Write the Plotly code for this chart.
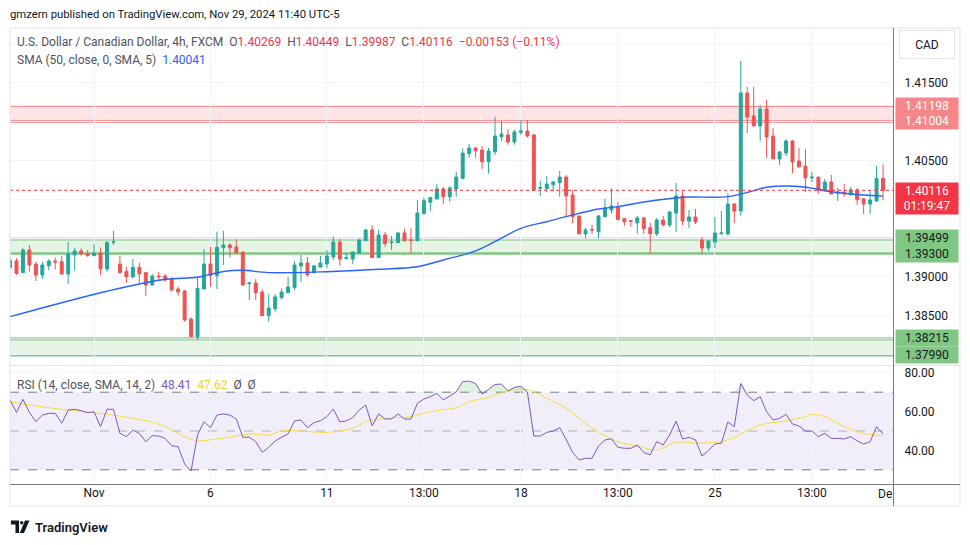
import plotly.graph_objects as go

# ---------------- data ----------------
opens = [1.39118,1.39205,1.39054,1.39346,1.39166,1.39024,1.39144,1.39205,1.39196,1.39037,
         1.39282,1.39334,1.39304,1.39273,1.39308,1.39102,1.39446,1.39166,1.39067,1.38999,
         1.39123,1.39054,1.38895,1.39011,1.39011,1.38973,1.38844,1.38818,1.38457,1.38229,
         1.38844,1.39166,1.39015,1.39376,1.39411,1.39385,1.39321,1.38912,1.38921,1.38805,
         1.38500,1.38590,1.38732,1.38796,1.38861,1.39140,1.39179,1.39054,1.39127,1.39166,
         1.39256,1.39450,1.39235,1.39230,1.39308,1.39466,1.39604,1.39248,1.39540,1.39441,
         1.39441,1.39566,1.39479,1.39466,1.39814,1.39961,1.40004,1.40133,1.40034,1.40133,
         1.40271,1.40588,1.40661,1.40636,1.40485,1.40614,1.40807,1.40829,1.40739,1.40864,
         1.40881,1.40829,1.40142,1.40137,1.40188,1.40214,1.40287,1.40055,1.39785,1.39553,
         1.39613,1.39582,1.39776,1.39862,1.39901,1.39750,1.39724,1.39698,1.39759,1.39634,
         1.39553,1.39733,1.39669,1.39823,1.40043,1.39720,1.39772,1.39475,1.39372,1.39450,
         1.39557,1.39553,1.39939,1.39849,1.41370,1.41074,1.40945,1.41164,1.40816,1.40520,
         1.40597,1.40751,1.40494,1.40429,1.40278,1.40287,1.40116,1.40223,1.40077,1.40094,
         1.40068,1.40120,1.40004,1.39939,1.39978,1.40269]
highs = [1.39247,1.39240,1.39376,1.39411,1.39196,1.39196,1.39227,1.39250,1.39269,1.39450,
         1.39376,1.39368,1.39346,1.39424,1.39381,1.39463,1.39591,1.39269,1.39131,1.39230,
         1.39183,1.39067,1.39037,1.39067,1.39037,1.38995,1.38874,1.38831,1.38479,1.38995,
         1.39359,1.39389,1.39582,1.39591,1.39433,1.39484,1.39321,1.38938,1.38973,1.38840,
         1.38779,1.38779,1.38853,1.38999,1.39205,1.39282,1.39256,1.39153,1.39269,1.39346,
         1.39518,1.39488,1.39308,1.39321,1.39492,1.39621,1.39669,1.39604,1.39578,1.39527,
         1.39578,1.39621,1.39630,1.39991,1.40021,1.40026,1.40197,1.40162,1.40171,1.40352,
         1.40657,1.40713,1.40670,1.40687,1.40661,1.41065,1.41009,1.40906,1.40893,1.41022,
         1.41022,1.40842,1.40240,1.40300,1.40236,1.40365,1.40313,1.40120,1.39785,1.39634,
         1.39673,1.39798,1.40004,1.40142,1.39965,1.39763,1.39733,1.39785,1.39772,1.39698,
         1.39759,1.39785,1.39849,1.40210,1.40120,1.39862,1.39875,1.39514,1.39475,1.39772,
         1.39849,1.40077,1.39952,1.41783,1.41448,1.41448,1.41216,1.41280,1.40919,1.40623,
         1.40777,1.40764,1.40661,1.40648,1.40352,1.40287,1.40262,1.40313,1.40146,1.40197,
         1.40159,1.40146,1.40017,1.40120,1.40429,1.40449]
lows = [1.39105,1.39024,1.39050,1.39067,1.38947,1.38973,1.39089,1.39102,1.39033,1.38908,
        1.39080,1.39273,1.39260,1.39270,1.39024,1.39067,1.39411,1.39050,1.38925,1.38982,
        1.38925,1.38753,1.38895,1.38951,1.38938,1.38809,1.38757,1.38422,1.38229,1.38186,
        1.38844,1.38873,1.38844,1.39153,1.39248,1.39304,1.38886,1.38702,1.38702,1.38500,
        1.38422,1.38551,1.38711,1.38796,1.38831,1.38938,1.39002,1.39046,1.39115,1.39115,
        1.39217,1.39144,1.39230,1.39166,1.39308,1.39466,1.39248,1.39248,1.39389,1.39346,
        1.39441,1.39454,1.39304,1.39466,1.39814,1.39849,1.40004,1.39939,1.39969,1.40034,
        1.40262,1.40536,1.40536,1.40391,1.40330,1.40571,1.40755,1.40704,1.40704,1.40829,
        1.40794,1.40120,1.40043,1.40094,1.40098,1.40034,1.39776,1.39691,1.39553,1.39497,
        1.39553,1.39497,1.39768,1.39814,1.39737,1.39656,1.39647,1.39557,1.39553,1.39304,
        1.39527,1.39647,1.39643,1.39582,1.39669,1.39630,1.39682,1.39295,1.39334,1.39372,
        1.39536,1.39540,1.39694,1.39789,1.40855,1.40945,1.40751,1.40532,1.40520,1.40442,
        1.40558,1.40339,1.40416,1.40094,1.40223,1.40068,1.40098,1.40068,1.39978,1.40034,
        1.40043,1.39930,1.39810,1.39810,1.39965,1.39987]
closes = [1.39209,1.39046,1.39346,1.39153,1.39024,1.39153,1.39205,1.39192,1.39037,1.39295,
          1.39334,1.39295,1.39273,1.39308,1.39102,1.39441,1.39454,1.39054,1.39002,1.39123,
          1.39037,1.38895,1.39011,1.39002,1.38960,1.38831,1.38805,1.38444,1.38229,1.38853,
          1.39166,1.39015,1.39381,1.39411,1.39376,1.39312,1.38895,1.38921,1.38796,1.38500,
          1.38599,1.38741,1.38805,1.38870,1.39153,1.39179,1.39028,1.39140,1.39179,1.39269,
          1.39450,1.39230,1.39248,1.39321,1.39475,1.39604,1.39248,1.39540,1.39428,1.39450,
          1.39566,1.39466,1.39471,1.39823,1.39982,1.40021,1.40133,1.40034,1.40146,1.40287,
          1.40597,1.40661,1.40626,1.40485,1.40623,1.40816,1.40842,1.40739,1.40868,1.40881,
          1.40816,1.40120,1.40150,1.40197,1.40223,1.40287,1.40043,1.39776,1.39553,1.39604,
          1.39604,1.39785,1.39888,1.39913,1.39737,1.39711,1.39716,1.39759,1.39621,1.39557,
          1.39733,1.39673,1.39836,1.40043,1.39720,1.39772,1.39707,1.39372,1.39462,1.39566,
          1.39566,1.39939,1.39849,1.41370,1.41061,1.40945,1.41164,1.40803,1.40520,1.40610,
          1.40751,1.40481,1.40416,1.40275,1.40287,1.40120,1.40223,1.40068,1.40094,1.40068,
          1.40120,1.39995,1.39939,1.39991,1.40269,1.40116]

# SMA(50) read at sample candles
sma_idx = [0,15,24,29,33,36,40,49,57,63,67,72,76,79,83,86,91,94,98,104,111,115,117,120,123,127,130,135]
sma_val = [1.38487,1.38815,1.38969,1.38995,1.39070,1.39085,1.39055,1.39067,1.39098,1.39131,
           1.39218,1.39335,1.39500,1.39626,1.39711,1.39776,1.39875,1.39905,1.39965,1.40026,
           1.40034,1.40111,1.40155,1.40171,1.40155,1.40098,1.40068,1.40041]

rsi = [66.0,59.6,66.3,59.6,54.8,58.2,59.1,59.1,54.0,60.8,61.2,60.5,59.4,59.9,52.2,61.2,61.2,48.8,47.1,50.5,
       48.8,44.5,47.6,47.4,46.2,42.4,41.9,33.0,29.4,47.9,54.8,51.7,58.2,58.8,58.2,56.2,46.8,46.8,44.5,39.0,
       41.6,44.8,46.8,48.5,55.2,55.7,51.7,54.3,55.3,57.4,61.3,54.8,55.2,56.9,60.8,63.4,52.7,58.8,56.2,56.2,
       58.8,56.2,56.2,64.3,66.5,67.7,69.4,66.0,68.0,70.2,75.4,75.7,74.5,69.0,71.4,74.0,74.2,70.6,72.5,73.0,
       70.2,47.4,47.4,49.3,50.0,51.7,45.7,38.9,35.1,35.9,35.9,42.3,45.4,45.9,41.6,41.1,41.1,42.8,38.9,37.7,
       44.5,42.8,47.9,55.1,45.9,46.7,45.4,37.1,39.9,43.3,43.7,54.6,52.2,74.5,68.5,65.6,67.7,59.9,55.7,56.5,
       58.6,53.6,52.6,50.0,50.0,47.1,48.8,46.2,46.2,45.9,47.1,44.9,43.3,44.5,52.2,48.41]

rsima_idx = [0,4,9,14,19,22,24,27,29,32,35,37,40,42,45,49,53,55,58,62,64,67,69,71,74,77,80,82,86,90,
             94,97,100,103,107,111,114,116,120,123,124,126,129,132,135]
rsima_val = [65.1,62.9,60.8,59.1,56.5,54.5,52.2,47.1,45.0,45.9,47.4,48.5,47.9,50.0,50.0,49.3,51.4,54.8,
             56.5,57.4,59.1,61.0,62.0,65.1,67.3,70.8,71.4,68.5,61.7,51.4,44.5,42.3,40.2,44.2,43.7,45.4,
             50.2,53.1,55.3,57.4,58.6,57.4,52.2,48.8,47.62]

tick_idx = [13,31,49,64,79,94,109,124]
tick_text = ["Nov","6","11","13:00","18","13:00","25","13:00"]

red_zone = (1.41004, 1.41198)
green_zone_hi = (1.39300, 1.39499)
green_zone_lo = (1.37990, 1.38215)
last_price = 1.40116
countdown = "01:19:47"

price_ticks = [1.380,1.385,1.390,1.395,1.400,1.405,1.410,1.415,1.420]
price_tick_text = ["","1.38500","1.39000","","","1.40500","","1.41500",""]
rsi_ticks = [40,60,80]
rsi_tick_text = ["40.00","60.00","80.00"]

# ---------------- styling ----------------
UP = "#26a69a"; DN = "#ef5350"
GRID = "#f0f3fa"
TXT = "#131722"
FONT = "Roboto"
W, H = 970, 545
PL, PR, PT, PB = 10, 893, 28, 484
XMAX = 136.54
P_TOP = 1.42569 - 0.0001289 * 28       # price at top of price pane
P_BOT = 1.42569 - 0.0001289 * 365.5    # price at bottom of price pane
R_TOP = 50 + (431 - 366.5) / 1.94
R_BOT = 50 - (PB - 431) / 1.94

def px(x):
    return (x - PL) / (PR - PL)

def py(y):
    return (PB - y) / (PB - PT)

idx = list(range(len(opens)))

fig = go.Figure()

fig.add_trace(go.Candlestick(
    x=idx, open=opens, high=highs, low=lows, close=closes,
    increasing=dict(line=dict(color=UP, width=1), fillcolor=UP),
    decreasing=dict(line=dict(color=DN, width=1), fillcolor=DN),
    whiskerwidth=0, xaxis="x", yaxis="y", showlegend=False, hoverinfo="skip"))

fig.add_trace(go.Scatter(x=sma_idx, y=sma_val, mode="lines", line=dict(color="#2962ff", width=1.4, shape="spline"),
                         xaxis="x", yaxis="y", showlegend=False, hoverinfo="skip"))

# RSI overbought / oversold fills
fig.add_trace(go.Scatter(x=idx, y=[70]*len(idx), mode="lines", line=dict(width=0, color="rgba(0,0,0,0)"),
                         xaxis="x", yaxis="y2", showlegend=False, hoverinfo="skip"))
fig.add_trace(go.Scatter(x=idx, y=[max(v, 70) for v in rsi], mode="lines", line=dict(width=0, color="rgba(0,0,0,0)"),
                         fill="tonexty", fillcolor="rgba(76,175,80,0.18)",
                         xaxis="x", yaxis="y2", showlegend=False, hoverinfo="skip"))
fig.add_trace(go.Scatter(x=idx, y=[30]*len(idx), mode="lines", line=dict(width=0, color="rgba(0,0,0,0)"),
                         xaxis="x", yaxis="y2", showlegend=False, hoverinfo="skip"))
fig.add_trace(go.Scatter(x=idx, y=[min(v, 30) for v in rsi], mode="lines", line=dict(width=0, color="rgba(0,0,0,0)"),
                         fill="tonexty", fillcolor="rgba(242,54,69,0.18)",
                         xaxis="x", yaxis="y2", showlegend=False, hoverinfo="skip"))

fig.add_trace(go.Scatter(x=rsima_idx, y=rsima_val, mode="lines", line=dict(color="#f7dc3c", width=1, shape="spline"),
                         xaxis="x", yaxis="y2", showlegend=False, hoverinfo="skip"))
fig.add_trace(go.Scatter(x=idx, y=rsi, mode="lines", line=dict(color="#7e57c2", width=1),
                         xaxis="x", yaxis="y2", showlegend=False, hoverinfo="skip"))

shapes = []
# zones
def zone(lo, hi, fill, line, double_top):
    shapes.append(dict(type="rect", xref="paper", yref="y", x0=0, x1=1, y0=lo, y1=hi,
                       fillcolor=fill, line=dict(width=0), layer="between"))
    shapes.append(dict(type="line", xref="paper", yref="y", x0=0, x1=1, y0=hi, y1=hi,
                       line=dict(color=line, width=1), layer="between"))
    if double_top:
        off = (hi - lo) * 0.12
        shapes.append(dict(type="line", xref="paper", yref="y", x0=0, x1=1, y0=hi - off, y1=hi - off,
                           line=dict(color=line, width=1), layer="between"))
    shapes.append(dict(type="line", xref="paper", yref="y", x0=0, x1=1, y0=lo, y1=lo,
                       line=dict(color=line, width=2.5), layer="between"))

zone(red_zone[0], red_zone[1], "rgba(242,54,69,0.13)", "#f77c80", False)
zone(green_zone_hi[0], green_zone_hi[1], "rgba(129,199,132,0.2)", "#81c784", True)
zone(green_zone_lo[0], green_zone_lo[1], "rgba(129,199,132,0.2)", "#81c784", True)

# last price dotted line
shapes.append(dict(type="line", xref="paper", yref="y", x0=0, x1=1, y0=last_price, y1=last_price,
                   line=dict(color="#f23645", width=1, dash="dot"), layer="above"))

# RSI band and levels
shapes.append(dict(type="rect", xref="paper", yref="y2", x0=0, x1=1, y0=30, y1=70,
                   fillcolor="rgba(126,87,194,0.1)", line=dict(width=0), layer="between"))
for lvl, col in [(70, "#787b86"), (50, "rgba(120,123,134,0.55)"), (30, "#787b86")]:
    shapes.append(dict(type="line", xref="paper", yref="y2", x0=0, x1=1, y0=lvl, y1=lvl,
                       line=dict(color=col, width=1, dash="dash"), layer="between"))

# frame and separators
BORDER = "#e0e3eb"
shapes.append(dict(type="rect", xref="paper", yref="paper", x0=px(10), x1=px(960), y0=py(506), y1=py(28),
                   line=dict(color=BORDER, width=1), fillcolor="rgba(0,0,0,0)", layer="above"))
shapes.append(dict(type="line", xref="paper", yref="paper", x0=px(10), x1=px(960), y0=py(365.5), y1=py(365.5),
                   line=dict(color=BORDER, width=1), layer="above"))
shapes.append(dict(type="line", xref="paper", yref="paper", x0=px(10), x1=px(960), y0=py(484.5), y1=py(484.5),
                   line=dict(color="#787b86", width=1), layer="above"))
shapes.append(dict(type="line", xref="paper", yref="paper", x0=px(893.5), x1=px(893.5), y0=py(506), y1=py(28),
                   line=dict(color="#787b86", width=1), layer="above"))

# TradingView logo
shapes.append(dict(type="path", xref="paper", yref="paper",
                   path="M {a},{b} L {c},{b} L {c},{d} L {e},{d} L {e},{f} L {a},{f} Z".format(
                       a=px(11), b=py(520.5), c=px(19), d=py(533), e=px(15.5), f=py(524.5)),
                   fillcolor=TXT, line=dict(width=0)))
shapes.append(dict(type="circle", xref="paper", yref="paper", x0=px(20), x1=px(23.4), y0=py(524.4), y1=py(521),
                   fillcolor=TXT, line=dict(width=0)))
shapes.append(dict(type="path", xref="paper", yref="paper",
                   path="M {a},{b} L {c},{b} L {d},{e} L {f},{e} Z".format(
                       a=px(25), b=py(520.5), c=px(29.5), d=px(24), e=py(533), f=px(19.8)),
                   fillcolor=TXT, line=dict(width=0)))

ann = []
def text(x, y, s, size=12.5, color=TXT, anchor="left", weight=None):
    f = dict(family=FONT, size=size, color=color)
    if weight:
        f["weight"] = weight
    ann.append(dict(xref="paper", yref="paper", x=px(x), y=py(y), text=s, showarrow=False,
                    xanchor=anchor, yanchor="middle", font=f))

text(8, 14, "gmzern published on TradingView.com, Nov 29, 2024 11:40 UTC-5", size=11.3)
G = "#50535e"; R = "#f23645"
def sp(s, c):
    return "<span style='color:%s'>%s</span>" % (c, s)
text(15, 42, sp("U.S. Dollar / Canadian Dollar, 4h, FXCM", G) + "  " +
     sp("O", G) + sp("%.5f" % opens[-1], R) + "  " + sp("H", G) + sp("%.5f" % highs[-1], R) + "  " +
     sp("L", G) + sp("%.5f" % lows[-1], R) + "  " + sp("C", G) + sp("%.5f" % closes[-1], R) + "  " +
     sp("\u22120.00153 (\u22120.11%)", R), size=12)
text(15, 60, sp("SMA (50, close, 0, SMA, 5)", G) + "  " + sp("%.5f" % sma_val[-1], "#2962ff"), size=12)
text(15, 385, sp("RSI (14, close, SMA, 14, 2)", G) + "  " + sp("%.2f" % rsi[-1], "#7e57c2") + "  " +
     sp("%.2f" % rsima_val[-1], "#f2d230") + "  " + sp("\u00d8  \u00d8", G), size=12)
text(33, 527, "TradingView", size=13, weight=600)
text(894, 494, "De", size=12, anchor="right")

# CAD box
ann.append(dict(xref="paper", yref="paper", x=px(926.5), y=py(44), text="CAD", showarrow=False,
                xanchor="center", yanchor="middle", width=52, height=25, bgcolor="white",
                bordercolor=BORDER, borderwidth=1, font=dict(family=FONT, size=12, color=TXT)))

def axis_box(val, bg, fg):
    ann.append(dict(xref="paper", yref="y", x=px(895), y=val, text="%.5f" % val, showarrow=False,
                    xanchor="left", yanchor="middle", width=62, height=16, bgcolor=bg, borderpad=0,
                    font=dict(family=FONT, size=12, color=fg)))

axis_box(red_zone[1], "#f7868a", "white")
axis_box(red_zone[0], "#f7868a", "white")
axis_box(green_zone_hi[1], "#81c784", TXT)
axis_box(green_zone_hi[0], "#81c784", TXT)
axis_box(green_zone_lo[1], "#81c784", TXT)
axis_box(green_zone_lo[0], "#81c784", TXT)
ann.append(dict(xref="paper", yref="paper", x=px(895), y=py(198.5), text="%.5f<br>%s" % (last_price, countdown),
                showarrow=False, xanchor="left", yanchor="middle", width=62, height=31, bgcolor="#f23645",
                borderpad=0, font=dict(family=FONT, size=12, color="white")))

fig.update_layout(
    width=W, height=H,
    margin=dict(l=PL, r=W - PR, t=PT, b=H - PB),
    paper_bgcolor="white", plot_bgcolor="white",
    hovermode=False, showlegend=False, boxgap=0.35,
    font=dict(family=FONT, size=12, color=TXT),
    xaxis=dict(domain=[0, 1], range=[0, XMAX], anchor="y2", tickvals=tick_idx, ticktext=tick_text,
               showgrid=True, gridcolor=GRID, zeroline=False, showline=False, ticks="",
               tickfont=dict(family=FONT, size=12, color=TXT), rangeslider=dict(visible=False), fixedrange=True),
    yaxis=dict(domain=[py(365.5), 1], range=[P_BOT, P_TOP],
               side="right", anchor="x", tickvals=price_ticks, ticktext=price_tick_text,
               showgrid=True, gridcolor=GRID, zeroline=False, showline=False,
               ticks="outside", ticklen=8, tickcolor="rgba(0,0,0,0)",
               tickfont=dict(family=FONT, size=12, color=TXT)),
    yaxis2=dict(domain=[0, py(366.5)], range=[R_BOT, R_TOP],
                side="right", anchor="x", tickvals=rsi_ticks, ticktext=rsi_tick_text,
                showgrid=True, gridcolor=GRID, zeroline=False, showline=False,
                ticks="outside", ticklen=8, tickcolor="rgba(0,0,0,0)",
                tickfont=dict(family=FONT, size=12, color=TXT)),
    shapes=shapes, annotations=ann,
)

fig.write_html("out.html", config={"displayModeBar": False},
               post_script="document.body.style.margin='0px';document.body.style.padding='0px';")
